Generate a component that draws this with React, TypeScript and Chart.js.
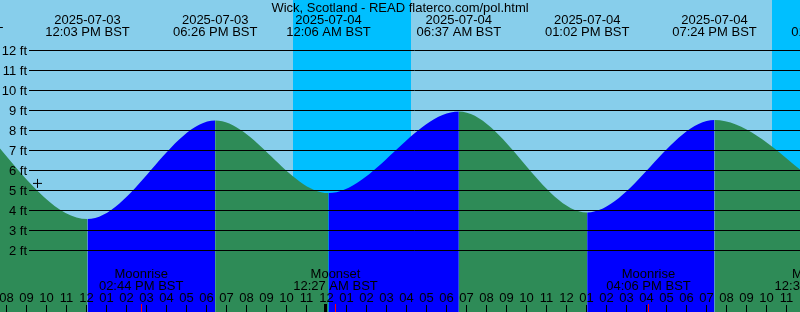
import React, { useEffect, useRef } from 'react';
import { Chart, registerables } from 'chart.js';

Chart.register(...registerables);

// ---------------- data ----------------
const TITLE = 'Wick, Scotland - READ flaterco.com/pol.html';
const BASE_DATE = '2025-07-03'; // hour 0 = midnight at the start of this date (BST)
const TZ = 'BST';

// Tide events (high / low): date, time (labelled at the top) and height in ft.
// The first (before the left edge) and the last (after the right edge) are estimated.
const tideEventDates = ['2025-07-03', '2025-07-03', '2025-07-03', '2025-07-04', '2025-07-04', '2025-07-04', '2025-07-04', '2025-07-05'];
const tideEventTimes = ['05:43 AM', '12:03 PM', '06:26 PM', '12:06 AM', '06:37 AM', '01:02 PM', '07:24 PM', '01:21 AM'];
const tideEventFeet = [9.2, 3.55, 8.48, 4.85, 8.93, 3.88, 8.5, 4.75];

// Moon events labelled at the bottom
const moonEventNames = ['Moonrise', 'Moonset', 'Moonrise', 'Moonset'];
const moonEventDates = ['2025-07-03', '2025-07-04', '2025-07-04', '2025-07-05'];
const moonEventTimes = ['02:44 PM', '12:27 AM', '04:06 PM', '12:31 AM'];

// Night (sunset -> sunrise)
const sunsetDates = ['2025-07-03', '2025-07-04'];
const sunsetTimes = ['10:19 PM', '10:16 PM'];
const sunriseDates = ['2025-07-04', '2025-07-05'];
const sunriseTimes = ['04:13 AM', '04:14 AM'];

// "+" marker
const markHour = 9.55;
const markFeet = 5.33;

// Axes
const depthTicks = [2, 3, 4, 5, 6, 7, 8, 9, 10, 11, 12];
const hourTicks = [
  8, 9, 10, 11, 12, 13, 14, 15, 16, 17, 18, 19, 20, 21, 22, 23, 24,
  25, 26, 27, 28, 29, 30, 31, 32, 33, 34, 35, 36, 37, 38, 39, 40, 41, 42, 43, 44, 45, 46, 47,
];
const X_MIN = 7.675;
const X_MAX = 47.675;
const Y_MIN = -1.1;
const Y_MAX = 14.5;

// ---------------- helpers ----------------
const SKY = '#87CEEB';
const NIGHT = '#00BFFF';
const FLOOD = '#0000FF';
const EBB = '#2E8B57';
const FONT = '13px "Liberation Sans", Arial, sans-serif';

function hoursSinceBase(date: string, time: string): number {
  const [y, m, d] = date.split('-').map(Number);
  const [by, bm, bd] = BASE_DATE.split('-').map(Number);
  const days = (Date.UTC(y, m - 1, d) - Date.UTC(by, bm - 1, bd)) / 86400000;
  const [hm, ampm] = time.split(' ');
  const [hh, mm] = hm.split(':').map(Number);
  const h = (hh % 12) + (ampm === 'PM' ? 12 : 0) + mm / 60;
  return days * 24 + h;
}

function hourLabel(h: number): string {
  const hr = ((h % 12) + 12) % 12 || 12;
  return String(hr).padStart(2, '0');
}

const decorPlugin = {
  id: 'tideDecor',
  beforeDatasetsDraw(chart: any) {
    const { ctx, width, height } = chart;
    const xs = chart.scales.x;
    ctx.save();
    ctx.fillStyle = SKY;
    ctx.fillRect(0, 0, width, height);
    ctx.fillStyle = NIGHT;
    for (let i = 0; i < sunsetDates.length; i++) {
      const a = Math.round(xs.getPixelForValue(hoursSinceBase(sunsetDates[i], sunsetTimes[i])));
      const b = Math.round(xs.getPixelForValue(hoursSinceBase(sunriseDates[i], sunriseTimes[i])));
      ctx.fillRect(a, 0, b - a, height);
    }
    ctx.restore();
  },
  afterDatasetsDraw(chart: any) {
    const { ctx, width, height } = chart;
    const xs = chart.scales.x;
    const ys = chart.scales.y;
    ctx.save();
    // depth lines and labels
    ctx.strokeStyle = '#000';
    ctx.lineWidth = 1;
    ctx.fillStyle = '#000';
    ctx.font = FONT;
    ctx.textAlign = 'right';
    ctx.textBaseline = 'alphabetic';
    for (const ft of depthTicks) {
      const y = Math.round(ys.getPixelForValue(ft));
      ctx.beginPath();
      ctx.moveTo(29, y + 0.5);
      ctx.lineTo(width, y + 0.5);
      ctx.stroke();
      ctx.fillText(`${ft} ft`, 27, y + 5);
    }

    // title
    ctx.textAlign = 'center';
    ctx.fillText(TITLE, width / 2, 12);

    // tide events (top labels)
    for (let i = 0; i < tideEventDates.length; i++) {
      const x = xs.getPixelForValue(hoursSinceBase(tideEventDates[i], tideEventTimes[i]));
      ctx.fillText(tideEventDates[i], x, 24);
      ctx.fillText(`${tideEventTimes[i]} ${TZ}`, x, 36);
    }

    // moon events
    for (let i = 0; i < moonEventNames.length; i++) {
      const x = xs.getPixelForValue(hoursSinceBase(moonEventDates[i], moonEventTimes[i]));
      ctx.fillText(moonEventNames[i], x, 278);
      ctx.fillText(`${moonEventTimes[i]} ${TZ}`, x, 290);
    }

    // hour labels & ticks
    for (const h of hourTicks) {
      const px = xs.getPixelForValue(h);
      const c = Math.floor(px);
      ctx.fillStyle = '#000';
      ctx.fillText(hourLabel(h), px, 302);
      if (h % 24 === 0) {
        ctx.fillRect(c - 2, height - 8, 3, 8);
      } else {
        ctx.fillRect(c, height - 7, 1, 7);
      }
    }
    // moon event ticks
    ctx.fillStyle = '#FF0000';
    for (let i = 0; i < moonEventNames.length; i++) {
      const c = Math.floor(xs.getPixelForValue(hoursSinceBase(moonEventDates[i], moonEventTimes[i])));
      ctx.fillRect(c, height - 8, 1, 8);
    }
    ctx.restore();
  },
};

export default function App() {
  const canvasRef = useRef<HTMLCanvasElement | null>(null);

  useEffect(() => {
    const canvas = canvasRef.current;
    if (!canvas) return;
    const tidePoints = tideEventDates.map((d, i) => ({
      x: hoursSinceBase(d, tideEventTimes[i]),
      y: tideEventFeet[i],
    }));
    const chart = new Chart(canvas, {
      type: 'line',
      data: {
        datasets: [
          {
            data: tidePoints,
            order: 1,
            fill: 'start',
            backgroundColor: EBB,
            borderColor: 'rgba(0,0,0,0)',
            borderWidth: 0,
            pointRadius: 0,
            cubicInterpolationMode: 'monotone',
            segment: {
              backgroundColor: (c: any) => (c.p1.parsed.y > c.p0.parsed.y ? FLOOD : EBB),
            },
          } as any,
          {
            data: [{ x: markHour, y: markFeet }],
            order: 0,
            showLine: false,
            fill: false,
            pointStyle: 'cross',
            pointRadius: 4.5,
            pointBorderColor: '#000',
            pointBorderWidth: 1,
            borderColor: '#000',
          } as any,
        ],
      },
      options: {
        animation: false,
        responsive: false,
        devicePixelRatio: 1,
        events: [],
        layout: { padding: 0, autoPadding: false },
        scales: {
          x: { type: 'linear', min: X_MIN, max: X_MAX, display: false },
          y: { type: 'linear', min: Y_MIN, max: Y_MAX, display: false },
        },
        plugins: {
          legend: { display: false },
          tooltip: { enabled: false },
          title: { display: false },
        },
      },
      plugins: [decorPlugin],
    });
    return () => chart.destroy();
  }, []);

  return (
    <div style={{ position: 'absolute', left: 0, top: 0, width: 800, height: 312 }}>
      <canvas ref={canvasRef} width={800} height={312} style={{ display: 'block' }} />
    </div>
  );
}
